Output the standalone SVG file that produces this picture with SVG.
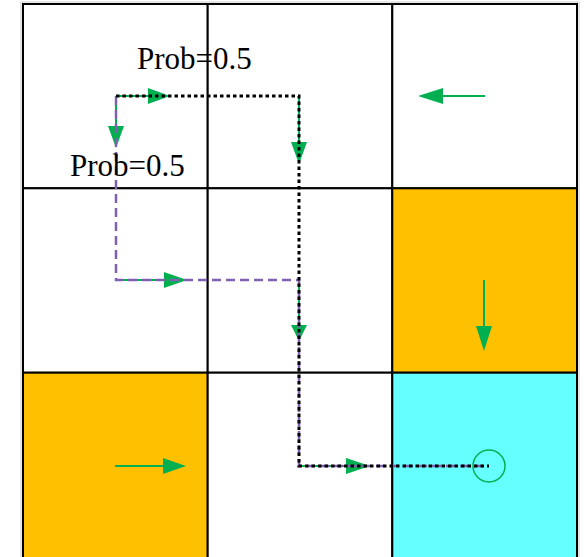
<svg xmlns="http://www.w3.org/2000/svg" width="585" height="557" viewBox="0 0 585 557">
<style>
.cell{stroke:#000;stroke-width:2}
.arr{stroke:#00B050;stroke-width:2;fill:none}
.head{fill:#00B050}
.lbl{font-family:"Liberation Serif",serif;font-size:31px;fill:#000}
.p1{fill:none;stroke:#000;stroke-width:3;stroke-dasharray:3.5 3}
.p2{fill:none;stroke:#8060B0;stroke-width:2.5;stroke-dasharray:9 5}
</style>
<rect x="0" y="0" width="585" height="557" fill="#fff"/>
<rect x="21" y="2" width="558" height="560" fill="none" stroke="#ccc" stroke-width="1"/>
<g id="cell-0-0"><rect class="cell" x="23" y="4" width="184.7" height="184.3" fill="#fff"/></g>
<g id="cell-0-1"><rect class="cell" x="207.7" y="4" width="184.6" height="184.3" fill="#fff"/></g>
<g id="cell-0-2"><rect class="cell" x="392.3" y="4" width="184.7" height="184.3" fill="#fff"/></g>
<g id="cell-1-0"><rect class="cell" x="23" y="188.3" width="184.7" height="184.4" fill="#fff"/></g>
<g id="cell-1-1"><rect class="cell" x="207.7" y="188.3" width="184.6" height="184.4" fill="#fff"/></g>
<g id="cell-1-2"><rect class="cell" x="392.3" y="188.3" width="184.7" height="184.4" fill="#FFC000"/></g>
<g id="cell-2-0"><rect class="cell" x="23" y="372.7" width="184.7" height="186" fill="#FFC000"/></g>
<g id="cell-2-1"><rect class="cell" x="207.7" y="372.7" width="184.6" height="186" fill="#fff"/></g>
<g id="cell-2-2"><rect class="cell" x="392.3" y="372.7" width="184.7" height="186" fill="#66FFFF"/></g>
<g id="arrows">
<line class="arr" x1="116" y1="96" x2="150" y2="96"/><polygon class="head" points="148,88 170,96 148,104"/>
<line class="arr" x1="116" y1="96" x2="116" y2="130"/><polygon class="head" points="108,126 124,126 116,148"/>
<line class="arr" x1="299" y1="96" x2="299" y2="145"/><polygon class="head" points="291,142 307,142 299,164"/>
<line class="arr" x1="485" y1="96" x2="440" y2="96"/><polygon class="head" points="443,88 418,96 443,104"/>
<line class="arr" x1="116" y1="280" x2="168" y2="280"/><polygon class="head" points="164,272 187,280 164,288"/>
<line class="arr" x1="484" y1="280" x2="484" y2="330"/><polygon class="head" points="476,326 492,326 484,351"/>
<line class="arr" x1="299" y1="280" x2="299" y2="330"/><polygon class="head" points="291,325 307,325 299,341"/>
<line class="arr" x1="115" y1="466" x2="166" y2="466"/><polygon class="head" points="163,458 186,466 163,474"/>
<line class="arr" x1="299" y1="466" x2="350" y2="466"/><polygon class="head" points="346,458 370,466 346,474"/>
<circle cx="489" cy="466" r="16" fill="none" stroke="#00B050" stroke-width="1.5"/>
</g>
<g id="connectors">
<path class="p2" d="M116,96 V280 H299 V466 H487"/>
<path class="p1" d="M116,96 H299 V466 H489"/>
</g>
<g id="labels">
<text class="lbl" x="137" y="69">Prob=0.5</text>
<text class="lbl" x="70" y="176">Prob=0.5</text>
</g>
</svg>
